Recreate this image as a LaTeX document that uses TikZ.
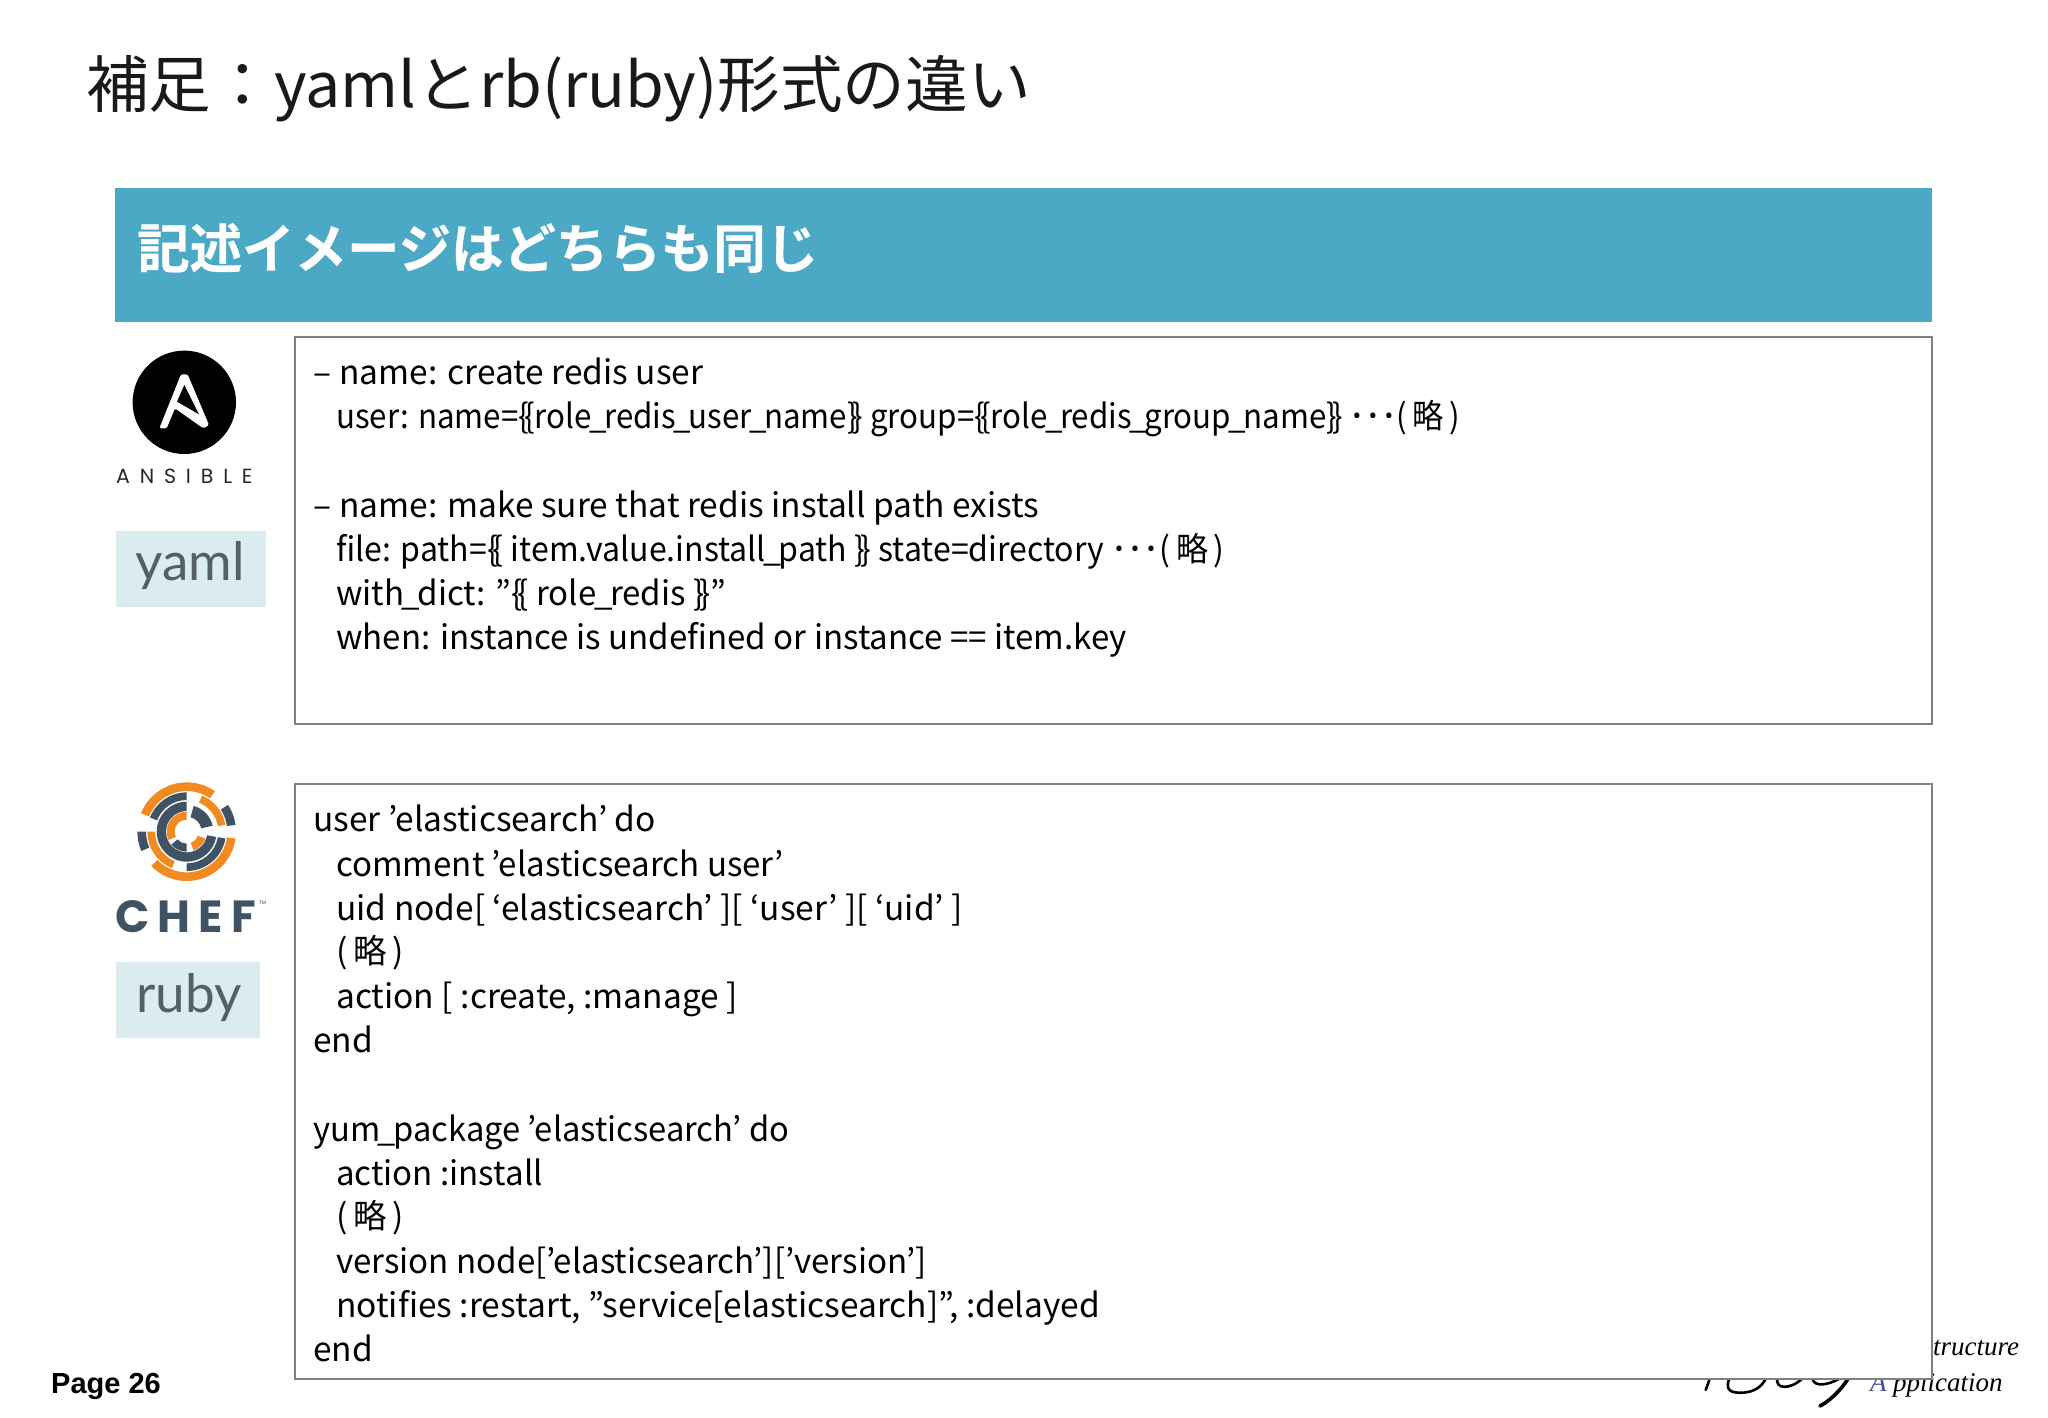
\documentclass[tikz,border=0pt]{standalone}
\usepackage{fontspec}
\setmainfont{Noto Sans CJK JP}
\newfontfamily\bodyf{Noto Sans CJK JP}[FakeStretch=1.0]
\newfontfamily\bodyg{Noto Sans CJK JP}[FakeStretch=0.987]
\newfontfamily\bodyj{Noto Sans CJK JP}[FakeStretch=0.976]
\newfontfamily\bodyh{Noto Sans CJK JP}[FakeStretch=0.957]
\newfontfamily\bodyi{Noto Sans CJK JP}[FakeStretch=0.934]
\newfontfamily\titlef{Noto Sans CJK JP}[FakeStretch=1.01]
\newfontfamily\bannerf{Noto Sans CJK JP Bold}[FakeStretch=0.99,FakeBold=0.6]
\newfontfamily\tagf{Lato}
\newfontfamily\logof{Poppins}
\newfontfamily\logob{Poppins Bold}
\newfontfamily\pagef{Liberation Sans Bold}
\newfontfamily\scriptf{Liberation Serif Italic}
\definecolor{banner}{HTML}{4BA9C6}
\definecolor{tagfill}{HTML}{DBECF1}
\definecolor{tagtext}{HTML}{555F65}
\definecolor{boxline}{HTML}{808080}
\definecolor{chefdark}{HTML}{3F5365}
\definecolor{cheforange}{HTML}{F18B21}
\tikzset{
  code/.style={anchor=base west,inner sep=0pt,font=\bodyf\fontsize{33.5}{36}\selectfont,text=black},
  codebox/.style={draw=boxline,line width=2pt,fill=white},
  tagword/.style={anchor=base west,inner sep=0pt,text=tagtext,font=\tagf\fontsize{53}{56}\selectfont},
  scriptword/.style={anchor=base west,inner sep=0pt,font=\scriptf\fontsize{27}{30}\selectfont},
  swash/.style={draw=black,line width=2.6pt,line cap=round}
}
\newcommand{\ringseg}[5]{\fill[#1] (#4:#3) arc[start angle=#4,end angle=#5,radius=#3] -- (#5:#2) arc[start angle=#5,end angle=#4,radius=#2] -- cycle;}
\newcommand{\lbr}{\{\hspace{-5pt}}
\newcommand{\rbr}{\}\hspace{-5pt}}
\newcommand{\usc}{\hspace{-2.5pt}\_\hspace{-2.5pt}}
\begin{document}
\begin{tikzpicture}[x=1pt,y=-1pt]
\useasboundingbox (0,0) rectangle (2048,1418);
\fill[white] (0,0) rectangle (2048,1418);
% title
\node[anchor=base west,inner sep=0pt,text=black!90,font=\titlef\fontsize{62}{66}\selectfont] (title) at (86,108) {補足：yamlとrb(ruby)形式の違い};
% banner
\fill[banner] (115,188) rectangle (1932,322);
\node[anchor=base west,inner sep=0pt,text=white,font=\bannerf\fontsize{53}{56}\selectfont] (bannertext) at (137,268) {記述イメージはどちらも同じ};
% ansible logo
\fill[black] (184.3,402.3) circle[radius=51.7];
\begin{scope}[shift={(125,345)},x=0.3333pt,y=0.3333pt,yscale=-1]
\fill[white,rounded corners=1.5pt] (168,88) -- (188,88) -- (252,240) -- (235,250) -- (150,190) -- (125,250) -- (103,250) -- cycle;
\fill[black] (178,120) -- (222,208) -- (156,170) -- cycle;
\end{scope}
\node[anchor=base west,inner sep=0pt,text=black!85,font={\logof\addfontfeature{LetterSpace=48}\fontsize{20.5}{22}\selectfont}] (ansible) at (116,483) {ANSIBLE};
\fill[tagfill] (116,531) rectangle (266,607);
\node[tagword] (yaml) at (135,580) {yaml};
% chef logo
\begin{scope}[shift={(186.7,831.7)},x=0.3333pt,y=0.3333pt]
\ringseg{cheforange}{122}{148}{55}{158}
\ringseg{chefdark}{122}{148}{8}{33}
\ringseg{chefdark}{122}{148}{180}{203}
\ringseg{cheforange}{122}{148}{224}{352}
\ringseg{chefdark}{95}{118}{90}{159}
\ringseg{cheforange}{95}{118}{10}{67}
\ringseg{cheforange}{95}{118}{180}{248}
\ringseg{chefdark}{95}{118}{270}{350}
\ringseg{chefdark}{62}{90}{90}{350}
\ringseg{chefdark}{45}{80}{13}{75}
\ringseg{cheforange}{36}{60}{90}{205}
\ringseg{chefdark}{36}{60}{220}{270}
\ringseg{cheforange}{36}{60}{290}{340}
\end{scope}
\node[anchor=base west,inner sep=0pt,text=chefdark,font={\logob\addfontfeature{LetterSpace=18}\fontsize{45}{48}\selectfont}] (chef) at (115,932) {CHEF};
\node[anchor=base west,inner sep=0pt,text=chefdark,font=\logof\fontsize{5}{6}\selectfont] (tm) at (259,904) {TM};
\fill[tagfill] (116,962) rectangle (260,1038);
\node[tagword] (ruby) at (136,1012) {ruby};
% footer
\node[anchor=base west,inner sep=0pt,font=\pagef\fontsize{29}{30}\selectfont,text=black] (page) at (51,1393) {Page 26};
\node[scriptword] (infra) at (1933,1355) {tructure};
\node[scriptword,text=blue!40!black!70] (appa) at (1870,1391) {A};
\node[scriptword] (appb) at (1893,1391) {pplication};
\begin{scope}[shift={(1680,1330)},x=0.3333pt,y=0.3333pt,yscale=-1]
\draw[swash] (77,180) -- (88,150);
\draw[swash] (148,145) .. controls (135,180) and (150,190) .. (190,188) .. controls (225,185) and (245,170) .. (258,145);
\draw[swash] (292,145) .. controls (285,178) and (330,180) .. (368,145);
\draw[swash] (398,148) .. controls (405,172) and (445,165) .. (480,145);
\draw[swash,line width=3.6pt] (505,145) .. controls (480,185) and (445,215) .. (420,228);
\end{scope}
% code boxes
\draw[codebox] (295,337) rectangle (1932,724);
\draw[codebox] (295,784) rectangle (1932,1379);
\node[code] (y1) at (313,384) {–\hspace{8pt}name: create redis user};
\node[code] (y2) at (336,428) {\bodyi user: name=\lbr\{role\usc redis\usc user\usc name\rbr\} group=\lbr\{role\usc redis\usc group\usc name\rbr\} ･･･(\,略\,)};
\node[code] (y3) at (313,517) {–\hspace{8pt}name: make sure that redis install path exists};
\node[code] (y4) at (336,561) {\bodyh file: path=\lbr\{ item.value.install\usc path \rbr\} state=directory ･･･(\,略\,)};
\node[code] (y5) at (336,605) {\bodyg with\usc dict: ”\lbr\{ role\usc redis \rbr\}”};
\node[code] (y6) at (336,649) {\bodyg when: instance is undefined or instance == item.key};
\node[code] (r1) at (313,831) {user ’elasticsearch’ do};
\node[code] (r2) at (336,876) {\bodyg comment ’elasticsearch user’};
\node[code] (r3) at (336,920) {uid node[ ‘elasticsearch’ ][ ‘user’ ][ ‘uid’ ]};
\node[code] (r4) at (336,963) {(\,略\,)};
\node[code] (r5) at (336,1008) {action [ :create, :manage ]};
\node[code] (r6) at (313,1052) {end};
\node[code] (r7) at (313,1141) {\bodyj yum\usc package ’elasticsearch’ do};
\node[code] (r8) at (336,1185) {\bodyg action :install};
\node[code] (r9) at (336,1228) {(\,略\,)};
\node[code] (r10) at (336,1273) {\bodyg version node[’elasticsearch’][’version’]};
\node[code] (r11) at (336,1317) {notifies :restart, ”service[elasticsearch]”, :delayed};
\node[code] (r12) at (313,1361) {end};
\end{tikzpicture}
\end{document}
